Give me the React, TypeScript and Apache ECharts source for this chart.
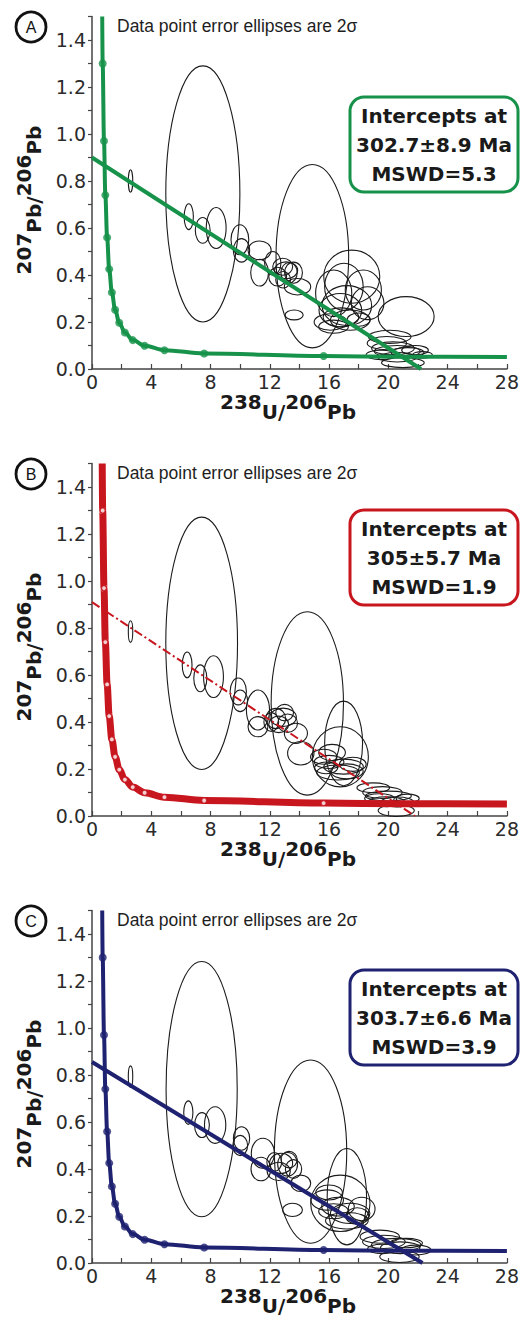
import React, { useEffect, useRef } from "react";
import * as echarts from "echarts";

// Tera-Wasserburg concordia (238U/206Pb, 207Pb/206Pb), age marks every 400 Ma
const concordiaCurve: number[][] = [
  [0.69, 1.5], [0.72, 1.3], [0.81, 0.97], [0.9, 0.74], [1.02, 0.56], [1.16, 0.425],
  [1.34, 0.326], [1.56, 0.252], [1.84, 0.197], [2.22, 0.155], [2.75, 0.123],
  [3.55, 0.099], [4.89, 0.08], [7.57, 0.066], [15.63, 0.055], [21.0, 0.052], [28, 0.051],
];
const concordiaMarks: number[][] = [
  [0.72, 1.3], [0.81, 0.97], [0.9, 0.74], [1.02, 0.56], [1.16, 0.425], [1.34, 0.326],
  [1.56, 0.252], [1.84, 0.197], [2.22, 0.155], [2.75, 0.123], [3.55, 0.099],
  [4.89, 0.08], [7.57, 0.066], [15.63, 0.055],
];

// Discordia regression lines
const discordiaA: number[][] = [[0, 0.9], [22.2, 0]];
const discordiaB: number[][] = [[0, 0.91], [21.8, 0]];
const discordiaC: number[][] = [[0, 0.855], [22.3, 0]];

// Error ellipses: [x, y, half-width (x units), half-height (y units)]
const ellipsesA: number[][] = [
  [2.6, 0.8, 0.15, 0.048], [7.48, 0.745, 2.5, 0.545], [6.53, 0.648, 0.31, 0.055],
  [7.47, 0.59, 0.5, 0.055], [8.38, 0.6, 0.67, 0.087], [9.98, 0.55, 0.6, 0.064],
  [10.09, 0.505, 0.55, 0.05], [11.31, 0.505, 0.78, 0.04], [11.31, 0.41, 0.6, 0.057],
  [12.87, 0.435, 0.67, 0.036], [13.1, 0.42, 0.78, 0.036], [12.53, 0.393, 0.6, 0.04],
  [13.3, 0.41, 0.55, 0.043], [12.9, 0.38, 0.5, 0.035], [13.87, 0.35, 0.89, 0.035],
  [12.2, 0.45, 0.55, 0.05], [13.6, 0.41, 0.6, 0.045],
  [13.64, 0.23, 0.61, 0.021], [14.87, 0.48, 2.45, 0.39], [17.53, 0.393, 1.89, 0.113],
  [16.31, 0.322, 1.22, 0.099], [18.31, 0.336, 1.22, 0.085], [16.76, 0.25, 1.44, 0.071],
  [17.2, 0.27, 1.67, 0.085], [16.09, 0.2, 1.1, 0.035], [17.42, 0.208, 1.33, 0.043],
  [16.3, 0.18, 1.0, 0.028], [18.0, 0.21, 0.78, 0.028], [17.0, 0.35, 1.3, 0.1],
  [18.6, 0.28, 1.1, 0.07], [16.8, 0.22, 1.2, 0.04], [21.2, 0.223, 1.89, 0.085],
  [20.09, 0.137, 1.44, 0.028], [19.9, 0.11, 1.33, 0.028], [20.31, 0.088, 1.44, 0.028],
  [20.6, 0.075, 1.55, 0.025], [21.3, 0.07, 1.1, 0.021], [20.98, 0.027, 1.44, 0.021],
  [19.5, 0.06, 1.0, 0.02], [20.6, 0.05, 1.3, 0.02], [21.8, 0.08, 0.9, 0.02],
  [22.3, 0.06, 0.67, 0.014],
];
const ellipsesB: number[][] = [
  [2.6, 0.785, 0.15, 0.046], [7.4, 0.735, 2.42, 0.537], [6.42, 0.643, 0.33, 0.055],
  [7.31, 0.586, 0.44, 0.057], [8.2, 0.593, 0.67, 0.089], [9.87, 0.53, 0.55, 0.057],
  [10.0, 0.49, 0.5, 0.046], [11.2, 0.451, 0.78, 0.085], [11.2, 0.38, 0.67, 0.043],
  [12.4, 0.415, 0.67, 0.043], [12.9, 0.42, 0.89, 0.039], [12.6, 0.39, 0.67, 0.035],
  [13.2, 0.395, 0.67, 0.039], [13.76, 0.352, 0.78, 0.043], [14.09, 0.267, 0.89, 0.05],
  [12.1, 0.4, 0.5, 0.04], [13.0, 0.44, 0.6, 0.035],
  [14.53, 0.479, 2.44, 0.39], [16.98, 0.309, 1.28, 0.18], [16.76, 0.252, 1.89, 0.128],
  [15.64, 0.252, 0.89, 0.032], [16.0, 0.23, 1.0, 0.028], [15.8, 0.205, 0.78, 0.025],
  [16.98, 0.21, 1.33, 0.032], [17.2, 0.19, 1.1, 0.032], [16.6, 0.185, 1.44, 0.032],
  [16.2, 0.27, 0.9, 0.035], [17.6, 0.22, 0.9, 0.03],
  [18.98, 0.12, 1.1, 0.021], [19.6, 0.1, 1.33, 0.025], [20.0, 0.085, 1.55, 0.021],
  [19.87, 0.061, 1.22, 0.021], [20.6, 0.06, 1.1, 0.021], [20.53, 0.023, 1.22, 0.025],
  [19.4, 0.075, 1.0, 0.02], [21.3, 0.075, 0.78, 0.018],
];
const ellipsesC: number[][] = [
  [2.6, 0.793, 0.15, 0.046], [7.4, 0.74, 2.4, 0.543], [6.5, 0.64, 0.31, 0.05],
  [7.42, 0.587, 0.5, 0.053], [8.31, 0.587, 0.72, 0.078], [10.09, 0.53, 0.55, 0.05],
  [10.0, 0.5, 0.5, 0.043], [11.53, 0.467, 0.78, 0.064], [11.4, 0.4, 0.67, 0.05],
  [12.76, 0.424, 0.78, 0.043], [13.2, 0.42, 0.67, 0.05], [12.6, 0.39, 0.78, 0.039],
  [13.3, 0.44, 0.55, 0.035], [14.09, 0.339, 0.67, 0.035], [13.53, 0.226, 0.67, 0.028],
  [12.3, 0.43, 0.5, 0.04], [13.6, 0.4, 0.55, 0.04],
  [14.75, 0.474, 2.44, 0.39], [17.2, 0.282, 1.33, 0.205], [16.76, 0.254, 2.0, 0.12],
  [15.87, 0.268, 1.1, 0.043], [16.3, 0.22, 1.0, 0.032], [16.0, 0.3, 0.9, 0.032],
  [17.42, 0.211, 1.33, 0.043], [17.2, 0.18, 1.44, 0.035], [17.9, 0.2, 0.78, 0.035],
  [16.6, 0.24, 1.1, 0.04], [18.2, 0.23, 0.9, 0.05],
  [19.42, 0.112, 1.33, 0.028], [19.7, 0.09, 1.44, 0.028], [20.53, 0.077, 1.67, 0.028],
  [20.8, 0.065, 1.33, 0.025], [21.87, 0.055, 1.0, 0.021], [20.75, 0.027, 1.33, 0.025],
  [19.6, 0.06, 1.0, 0.02], [21.2, 0.085, 1.1, 0.02],
];

const panelLetters = ["A", "B", "C"];
const interceptA = ["Intercepts at", "302.7±8.9 Ma", "MSWD=5.3"];
const interceptB = ["Intercepts at", "305±5.7 Ma", "MSWD=1.9"];
const interceptC = ["Intercepts at", "303.7±6.6 Ma", "MSWD=3.9"];
const captionText = "Data point error ellipses are 2σ";

const W = 522;
const H = 1329;
const PANEL_STEP = 447;
const GRID_LEFT = 92;
const GRID_WIDTH = 420;
const GRID_TOP = 16.5;
const GRID_HEIGHT = 352.5;

const NUM_FONT = "DejaVu Sans";
const TEXT_FONT = "Liberation Sans, Arial, sans-serif";

interface PanelStyle {
  color: string;
  curveWidth: number;
  markSize: number;
  markHollow: boolean;
  discordiaWidth: number;
  discordiaDash: number[] | "solid";
  boxTop: number;
}

const panelStyles: PanelStyle[] = [
  { color: "#17924a", curveWidth: 4, markSize: 8, markHollow: false, discordiaWidth: 4, discordiaDash: "solid", boxTop: 97 },
  { color: "#c8161f", curveWidth: 7, markSize: 5, markHollow: true, discordiaWidth: 2, discordiaDash: [9, 3, 2, 3], boxTop: 63 },
  { color: "#1e2270", curveWidth: 4, markSize: 8, markHollow: false, discordiaWidth: 4, discordiaDash: "solid", boxTop: 76 },
];

const ellipseSets = [ellipsesA, ellipsesB, ellipsesC];
const discordiaSets = [discordiaA, discordiaB, discordiaC];
const interceptSets = [interceptA, interceptB, interceptC];

function ellipseRender(params: any, api: any) {
  const c = api.coord([api.value(0), api.value(1)]);
  const s = api.size([api.value(2), api.value(3)]);
  return {
    type: "ellipse",
    shape: { cx: c[0], cy: c[1], rx: s[0], ry: s[1] },
    style: { fill: "none", stroke: "#1b1b1b", lineWidth: 1.1 },
    silent: true,
  };
}

const richName = {
  s: { fontFamily: NUM_FONT, fontWeight: "bold", fontSize: 20, lineHeight: 20, verticalAlign: "top", fill: "#1a1a1a" },
  m: { fontFamily: NUM_FONT, fontWeight: "bold", fontSize: 20, lineHeight: 40, fill: "#1a1a1a" },
};

export default function App() {
  const ref = useRef<HTMLDivElement>(null);

  useEffect(() => {
    document.body.style.margin = "0";
    if (!ref.current) return;
    const chart = echarts.init(ref.current, undefined, { renderer: "svg" });

    const grid: any[] = [];
    const xAxis: any[] = [];
    const yAxis: any[] = [];
    const series: any[] = [];
    const graphic: any[] = [];

    panelStyles.forEach((ps, i) => {
      const off = i * PANEL_STEP;
      grid.push({ left: GRID_LEFT, top: GRID_TOP + off, width: GRID_WIDTH, height: GRID_HEIGHT });
      xAxis.push({
        type: "value",
        gridIndex: i,
        min: 0,
        max: 28,
        interval: 4,
        axisLine: { show: true, onZero: false, lineStyle: { color: "#444", width: 1.5 } },
        axisTick: { show: true, inside: true, length: 5, lineStyle: { color: "#444", width: 1.2 } },
        minorTick: { show: true, splitNumber: 2, length: 5, lineStyle: { color: "#444", width: 1.2 } },
        splitLine: { show: false },
        axisLabel: { fontFamily: NUM_FONT, fontSize: 19, color: "#2b2b2b", margin: 3 },
      });
      yAxis.push({
        type: "value",
        gridIndex: i,
        min: 0,
        max: 1.5,
        interval: 0.2,
        axisLine: { show: true, onZero: false, lineStyle: { color: "#444", width: 1.5 } },
        axisTick: { show: true, inside: false, length: 4, lineStyle: { color: "#444", width: 1.2 } },
        minorTick: { show: true, splitNumber: 2, length: 4, lineStyle: { color: "#444", width: 1.2 } },
        splitLine: { show: false },
        axisLabel: {
          fontFamily: NUM_FONT,
          fontSize: 19,
          color: "#2b2b2b",
          margin: 6,
          formatter: (v: number) => (v > 1.45 ? "" : v.toFixed(1)),
        },
      });

      series.push({
        type: "custom",
        xAxisIndex: i,
        yAxisIndex: i,
        renderItem: ellipseRender,
        encode: { x: 0, y: 1 },
        data: ellipseSets[i],
        z: 2,
        silent: true,
      });
      series.push({
        type: "line",
        xAxisIndex: i,
        yAxisIndex: i,
        data: concordiaCurve,
        smooth: 0.35,
        smoothMonotone: "x",
        symbol: "none",
        lineStyle: { color: ps.color, width: ps.curveWidth },
        z: 3,
        silent: true,
      });
      series.push({
        type: "scatter",
        xAxisIndex: i,
        yAxisIndex: i,
        data: concordiaMarks,
        symbol: "circle",
        symbolSize: ps.markSize,
        itemStyle: ps.markHollow
          ? { color: "#ffffff", borderColor: ps.color, borderWidth: 1.2 }
          : { color: ps.color },
        z: 5,
        silent: true,
      });
      series.push({
        type: "line",
        xAxisIndex: i,
        yAxisIndex: i,
        data: discordiaSets[i],
        symbol: "none",
        lineStyle: { color: ps.color, width: ps.discordiaWidth, type: ps.discordiaDash },
        z: 4,
        silent: true,
      });

      // panel letter in a circle
      graphic.push({
        type: "circle",
        shape: { cx: 31, cy: 27 + off, r: 15 },
        style: { fill: "#fff", stroke: "#111", lineWidth: 2.8 },
      });
      graphic.push({
        type: "text",
        x: 31,
        y: 27 + off,
        style: {
          text: panelLetters[i],
          fontFamily: TEXT_FONT,
          fontSize: 16,
          fill: "#111",
          align: "center",
          verticalAlign: "middle",
        },
      });
      graphic.push({
        type: "text",
        x: 117,
        y: 26 + off,
        style: {
          text: captionText,
          fontFamily: TEXT_FONT,
          fontSize: 17.5,
          fill: "#1e1e1e",
          align: "left",
          verticalAlign: "middle",
        },
      });

      // intercept box
      const bt = ps.boxTop + off;
      graphic.push({
        type: "rect",
        shape: { x: 350, y: bt, width: 168, height: 95, r: 14 },
        style: { fill: "#fff", stroke: ps.color, lineWidth: 3 },
        z: 10,
      });
      graphic.push({
        type: "text",
        x: 434,
        y: bt + 47.5,
        z: 11,
        style: {
          text: interceptSets[i].join("\n"),
          fontFamily: NUM_FONT,
          fontWeight: "bold",
          fontSize: 20,
          lineHeight: 29,
          fill: "#1a1a1a",
          align: "center",
          verticalAlign: "middle",
        },
      });

      // axis names with superscript mass numbers
      graphic.push({
        type: "text",
        x: 34,
        y: 200 + off,
        rotation: Math.PI / 2,
        style: {
          text: "{s|207}{m|Pb/}{s|206}{m|Pb}",
          rich: richName,
          align: "center",
          verticalAlign: "middle",
        },
      });
      graphic.push({
        type: "text",
        x: 288,
        y: 412 + off,
        style: {
          text: "{s|238}{m|U/}{s|206}{m|Pb}",
          rich: richName,
          align: "center",
          verticalAlign: "middle",
        },
      });
    });

    chart.setOption({
      animation: false,
      backgroundColor: "#ffffff",
      grid,
      xAxis,
      yAxis,
      series,
      graphic: { elements: graphic },
    });

    return () => chart.dispose();
  }, []);

  return <div ref={ref} style={{ width: W, height: H }} />;
}
